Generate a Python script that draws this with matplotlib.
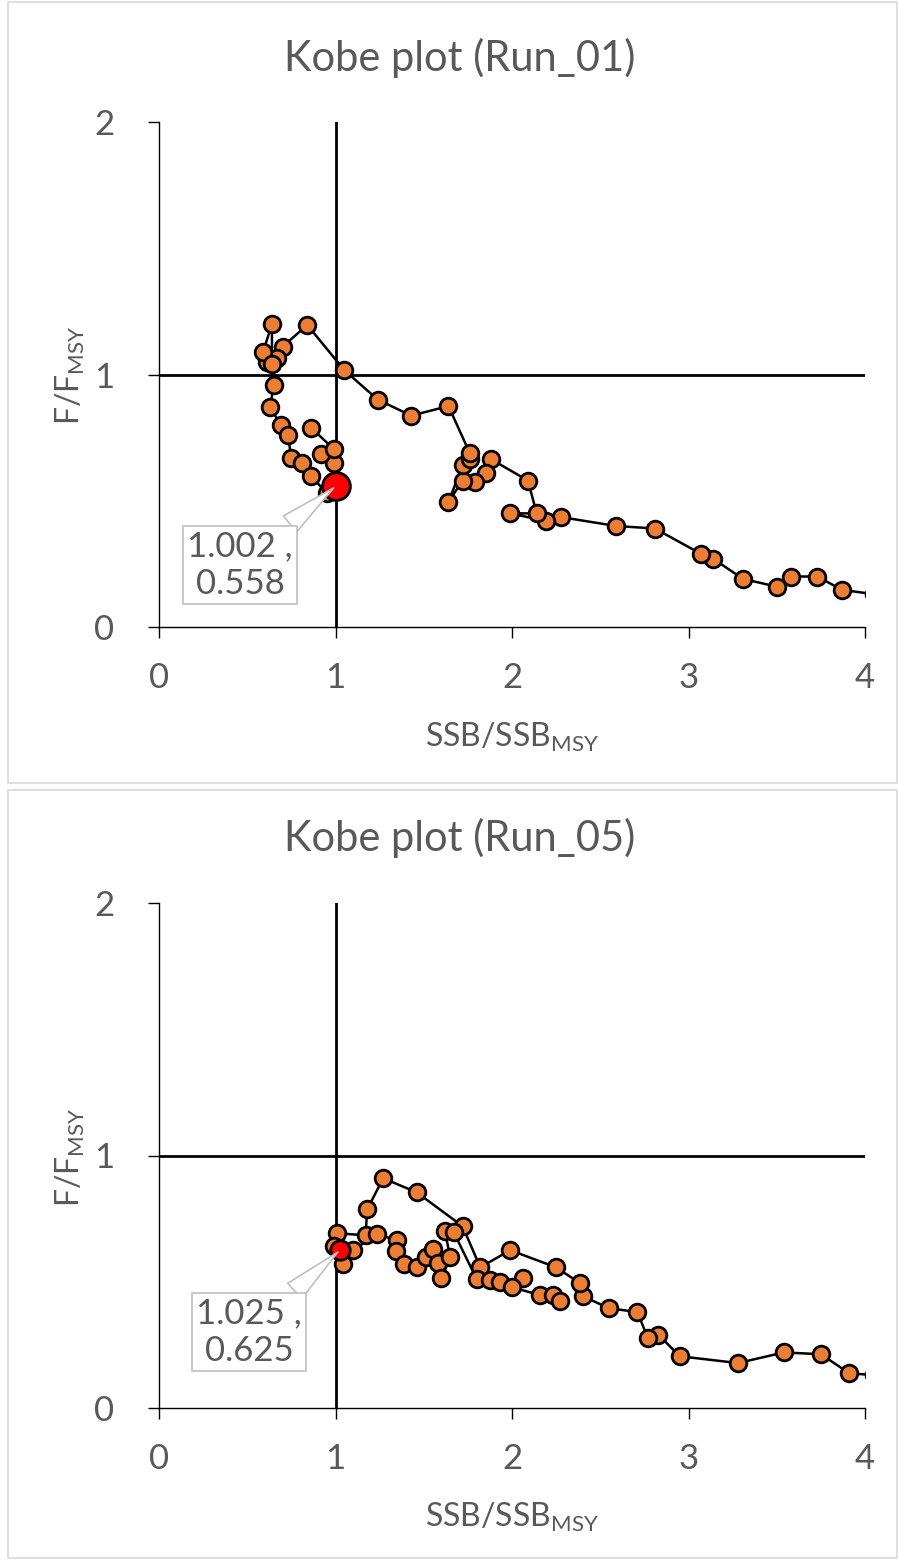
import matplotlib.pyplot as plt
from matplotlib.patches import Rectangle

plt.rcParams['font.family'] = ['Lato', 'DejaVu Sans']
plt.rcParams['mathtext.fontset'] = 'custom'
plt.rcParams['mathtext.rm'] = 'Lato'

# Run_01 trajectory (SSB/SSBmsy, F/Fmsy)
ssb_01 = [4.05, 3.87, 3.73, 3.58, 3.50, 3.31, 3.14, 3.07, 2.81, 2.59, 2.28, 2.19,
          1.99, 2.14, 2.09, 1.88, 1.85, 1.79, 1.72, 1.64, 1.72, 1.76, 1.76, 1.64,
          1.43, 1.24, 1.05, 0.84, 0.70, 0.67, 0.61, 0.59, 0.64, 0.64, 0.65, 0.63,
          0.69, 0.73, 0.75, 0.81, 0.86, 0.95, 1.002, 0.99, 0.92, 0.99, 0.86]
f_01 = [0.13, 0.147, 0.20, 0.20, 0.16, 0.19, 0.27, 0.29, 0.39, 0.40, 0.435, 0.42,
        0.45, 0.45, 0.58, 0.665, 0.61, 0.575, 0.58, 0.495, 0.64, 0.665, 0.69, 0.875,
        0.837, 0.90, 1.017, 1.196, 1.11, 1.065, 1.05, 1.09, 1.20, 1.04, 0.96, 0.87,
        0.80, 0.76, 0.67, 0.65, 0.60, 0.53, 0.558, 0.65, 0.685, 0.705, 0.79]

# Run_05 trajectory
ssb_05 = [4.05, 3.91, 3.75, 3.54, 3.28, 2.95, 2.83, 2.77, 2.71, 2.55, 2.40, 2.385,
          2.25, 1.99, 1.82, 1.72, 1.46, 1.27, 1.18, 1.17, 1.01, 0.99, 1.04, 1.10,
          1.235, 1.35, 1.34, 1.39, 1.46, 1.51, 1.55, 1.58, 1.60, 1.65, 1.62, 1.67,
          1.80, 1.875, 1.93, 2.06, 2.00, 2.16, 2.23, 2.27]
f_05 = [0.13, 0.138, 0.213, 0.22, 0.178, 0.205, 0.29, 0.277, 0.38, 0.395, 0.443, 0.494,
        0.557, 0.625, 0.557, 0.72, 0.854, 0.91, 0.787, 0.684, 0.692, 0.64, 0.57, 0.625,
        0.688, 0.664, 0.62, 0.57, 0.56, 0.597, 0.628, 0.573, 0.514, 0.597, 0.70, 0.696,
        0.51, 0.506, 0.50, 0.514, 0.478, 0.447, 0.447, 0.423]

panels = [
    {"title": "Kobe plot (Run_01)", "ssb": ssb_01, "f": f_01,
     "last": (1.002, 0.558), "label": "1.002 ,\n0.558", "lab_xy": (0.46, 0.245), "msize": 20},
    {"title": "Kobe plot (Run_05)", "ssb": ssb_05, "f": f_05,
     "last": (1.025, 0.625), "label": "1.025 ,\n0.625", "lab_xy": (0.51, 0.30), "msize": 14},
]

W, H = 898, 1560
fig = plt.figure(figsize=(W / 100, H / 100), dpi=100)

# panel frames (px: x0, y0_top, x1, y1_bottom)
frames = [(8, 2, 897, 783), (8, 790, 897, 1558)]
for x0, y0, x1, y1 in frames:
    fig.patches.append(Rectangle((x0 / W, 1 - y1 / H), (x1 - x0) / W, (y1 - y0) / H,
                                 transform=fig.transFigure, fill=False,
                                 edgecolor='#D9D9D9', linewidth=1.2))

# axes boxes in px (left, top, right, bottom)
boxes = [(159, 122, 865, 627), (159, 903, 865, 1408)]
title_y = [58, 838]
xlab_y = [737, 1517]
ylab_y = [375, 1157]

grey = '#595959'
for p, (l, t, r, b), ty, xy_, yy_ in zip(panels, boxes, title_y, xlab_y, ylab_y):
    ax = fig.add_axes([l / W, 1 - b / H, (r - l) / W, (b - t) / H])
    ax.set_xlim(0, 4)
    ax.set_ylim(0, 2)
    ax.axvline(1, color='black', lw=2.0, zorder=2)
    ax.axhline(1, color='black', lw=2.0, zorder=2)
    ax.plot(p["ssb"], p["f"], color='black', lw=1.8, marker='o', markersize=12,
            markerfacecolor='#ED7D31', markeredgecolor='black', markeredgewidth=2.0,
            zorder=3, clip_on=True)
    ax.plot([p["last"][0]], [p["last"][1]], marker='o', markersize=p["msize"],
            markerfacecolor='#FF0000', markeredgecolor='black', markeredgewidth=2.0,
            linestyle='none', zorder=4)
    ax.annotate(p["label"], xy=p["last"], xytext=p["lab_xy"], textcoords='data',
                ha='center', va='center', fontsize=25, color=grey, linespacing=1.2,
                bbox=dict(boxstyle='square,pad=0.12', fc='white', ec='#BFBFBF', lw=1.2),
                arrowprops=dict(arrowstyle='wedge,tail_width=0.6,shrink_factor=0.5',
                                fc='white', ec='#BFBFBF', lw=1.2),
                zorder=5)
    for s in ['top', 'right']:
        ax.spines[s].set_visible(False)
    for s in ['left', 'bottom']:
        ax.spines[s].set_linewidth(1.0)
        ax.spines[s].set_color('black')
        ax.spines[s].set_zorder(1)
    ax.set_xticks([0, 1, 2, 3, 4])
    ax.set_yticks([0, 1, 2])
    ax.tick_params(direction='out', length=8, width=1.0, colors='black',
                   labelcolor=grey, labelsize=25)
    ax.tick_params(axis='x', pad=17)
    ax.tick_params(axis='y', pad=24)
    fig.text(460 / W, 1 - ty / H, p["title"], ha='center', va='center',
             fontsize=30, color=grey)
    fig.text(512 / W, 1 - xy_ / H, r'$\mathregular{SSB/SSB_{MSY}}$', ha='center',
             va='center', fontsize=23, color=grey)
    fig.text(70 / W, 1 - yy_ / H, r'$\mathregular{F/F_{MSY}}$', ha='center',
             va='center', rotation=90, fontsize=23, color=grey)

fig.savefig('out.png', dpi=100)
